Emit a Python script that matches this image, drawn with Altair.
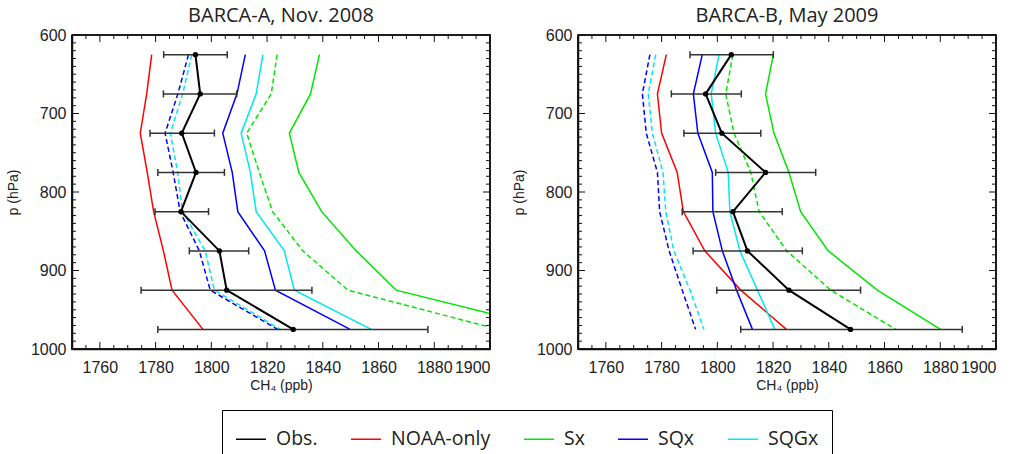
import altair as alt
import pandas as pd

# pressure levels (hPa)
levels = [625, 675, 725, 775, 825, 875, 925, 975]

# ---- BARCA-A, Nov. 2008 ----
obs_a = [1794.3, 1796.0, 1789.4, 1794.5, 1789.1, 1802.9, 1805.5, 1829.4]
obs_a_lo = [1782.9, 1782.8, 1778.0, 1780.8, 1779.8, 1792.1, 1774.8, 1780.8]
obs_a_hi = [1805.7, 1809.1, 1801.1, 1804.7, 1799.0, 1813.4, 1836.1, 1877.7]
noaa_a = [1778.6, 1776.8, 1774.5, 1777.0, 1779.3, 1782.8, 1785.9, 1797.0]
sx_a = [1838.8, 1835.6, 1828.0, 1831.4, 1839.6, 1852.0, 1866.3, 1923.0]
sx_a_d = [1823.6, 1821.5, 1812.7, 1817.2, 1822.0, 1832.8, 1849.0, 1903.0]
sqx_a = [1812.2, 1809.2, 1804.1, 1807.5, 1809.5, 1819.1, 1823.0, 1849.8]
sqx_a_d = [1791.8, 1788.0, 1783.4, 1786.3, 1788.8, 1795.7, 1799.6, 1823.8]
sqgx_a = [1818.5, 1816.1, 1810.7, 1814.0, 1816.1, 1826.2, 1829.8, 1857.4]
sqgx_a_d = [1793.0, 1789.7, 1785.3, 1787.9, 1789.7, 1797.8, 1801.1, 1824.8]

# ---- BARCA-B, May 2009 ----
obs_b = [1805.0, 1795.8, 1801.6, 1817.3, 1805.6, 1810.8, 1825.7, 1847.8]
obs_b_lo = [1790.2, 1783.5, 1788.0, 1799.4, 1787.4, 1791.3, 1799.8, 1808.4]
obs_b_hi = [1820.1, 1808.6, 1815.6, 1835.3, 1823.3, 1830.5, 1851.4, 1887.9]
noaa_b = [1781.7, 1778.5, 1780.0, 1785.6, 1787.8, 1795.5, 1808.4, 1824.8]
sx_b = [1820.1, 1817.3, 1820.3, 1825.7, 1829.9, 1839.8, 1857.4, 1880.1]
sx_b_d = [1805.6, 1803.0, 1806.0, 1812.0, 1815.0, 1824.9, 1840.7, 1864.0]
sqx_b = [1794.6, 1791.4, 1793.0, 1798.2, 1798.4, 1801.8, 1806.9, 1812.6]
sqx_b_d = [1775.8, 1773.1, 1774.5, 1778.5, 1779.3, 1782.7, 1787.4, 1792.2]
sqgx_b = [1800.6, 1797.8, 1799.4, 1803.9, 1804.5, 1808.1, 1814.4, 1820.6]
sqgx_b_d = [1777.9, 1775.2, 1776.7, 1780.5, 1781.5, 1784.4, 1790.2, 1795.2]

series_names = ["Obs.", "NOAA-only", "Sx", "SQx", "SQGx"]
series_colors = ["#000000", "#ff0000", "#00e600", "#0000ff", "#00e8f0"]

x_domain = [1750, 1900]
y_domain = [600, 1000]
x_labels = [1760, 1780, 1800, 1820, 1840, 1860, 1880, 1900]
x_minor = [v for v in range(1750, 1901, 5) if v % 20 != 0]
y_labels = [600, 700, 800, 900, 1000]
y_minor = [p for p in range(600, 1001, 10) if p % 100 != 0]

# plot-frame corners (axis extremes), walked in order
frame_v = [1750, 1900, 1900, 1750, 1750]
frame_p = [600, 600, 1000, 1000, 600]

W, H = 418, 314
FONT_TXT = "Open Sans"
FONT_AX = "Liberation Sans"
FRAME = "#111111"

color_scale = alt.Scale(domain=series_names, range=series_colors)

legend = alt.Legend(
    orient="none", legendX=150, legendY=375, direction="horizontal", columns=5,
    symbolType="stroke", symbolSize=900, symbolStrokeWidth=1.5,
    labelFont=FONT_TXT, labelFontSize=19.5, labelColor="#222222", labelOffset=9,
    columnPadding=30, padding=13, strokeColor="black", fillColor="white", title=None,
)


def panel(title, obs, lo, hi, solid_models, dashed_models):
    xs = alt.Scale(domain=x_domain, nice=False, zero=False)
    ys = alt.Scale(domain=y_domain, reverse=True, nice=False, zero=False)
    xax = alt.Axis(values=x_labels, format="d", title="CH₄ (ppb)", labelPadding=10, titlePadding=3,
                   domain=True, domainColor=FRAME, domainWidth=1.5, ticks=False, grid=False)
    yax = alt.Axis(values=y_labels, format="d", title="p (hPa)", labelPadding=6, titlePadding=10,
                   domain=True, domainColor=FRAME, domainWidth=1.5, ticks=False, grid=False)

    def X(f):
        return alt.X(f, scale=xs, axis=xax)

    def Y(f):
        return alt.Y(f, scale=ys, axis=yax)

    def to_df(models):
        rows = []
        for name, vals in models:
            for p, v in zip(levels, vals):
                rows.append({"series": name, "p": p, "v": v})
        return pd.DataFrame(rows)

    sdf = to_df(solid_models)
    ddf = to_df(dashed_models)
    odf = pd.DataFrame({"series": "Obs.", "p": levels, "v": obs, "lo": lo, "hi": hi})
    cdf = pd.DataFrame({"p": levels + levels, "v": lo + hi})
    fdf = pd.DataFrame({"k": list(range(len(frame_v))), "v": frame_v, "p": frame_p})

    solid = alt.Chart(sdf).mark_line(clip=True, strokeWidth=1.5).encode(
        x=X("v:Q"), y=Y("p:Q"),
        color=alt.Color("series:N", scale=color_scale, legend=legend),
        order="p:Q",
    )
    dashed = alt.Chart(ddf).mark_line(clip=True, strokeWidth=1.5, strokeDash=[5, 3]).encode(
        x=X("v:Q"), y=Y("p:Q"),
        color=alt.Color("series:N", scale=color_scale, legend=legend),
        order="p:Q",
    )
    err = alt.Chart(odf).mark_rule(color="#333333", strokeWidth=1.5).encode(
        x=X("lo:Q"), x2="hi:Q", y=Y("p:Q"))
    caps = alt.Chart(cdf).mark_point(shape="M0,-1L0,1", size=49, color="#333333", strokeWidth=1.5,
                                     filled=False, opacity=1).encode(x=X("v:Q"), y=Y("p:Q"))
    oline = alt.Chart(odf).mark_line(strokeWidth=2).encode(
        x=X("v:Q"), y=Y("p:Q"),
        color=alt.Color("series:N", scale=color_scale, legend=legend),
        order="p:Q",
    )
    pts = alt.Chart(odf).mark_circle(size=28, color="black", opacity=1).encode(x=X("v:Q"), y=Y("p:Q"))

    # frame drawn as a closed line through the axis corners
    frame_line = alt.Chart(fdf).mark_line(color=FRAME, strokeWidth=1.6).encode(
        x=X("v:Q"), y=Y("p:Q"), order="k:Q")

    # inward tick marks
    xmaj = pd.DataFrame({"v": x_labels})
    xmin = pd.DataFrame({"v": x_minor})
    ymaj = pd.DataFrame({"p": y_labels})
    ymin = pd.DataFrame({"p": y_minor})
    tk = []
    for df, ln in ((xmaj, 7), (xmin, 4)):
        tk.append(alt.Chart(df).mark_rule(color=FRAME, strokeWidth=1).encode(
            x=X("v:Q"), y=alt.value(H), y2=alt.value(H - ln)))
        tk.append(alt.Chart(df).mark_rule(color=FRAME, strokeWidth=1).encode(
            x=X("v:Q"), y=alt.value(0), y2=alt.value(ln)))
    for df, ln in ((ymaj, 7), (ymin, 4)):
        tk.append(alt.Chart(df).mark_rule(color=FRAME, strokeWidth=1).encode(
            y=Y("p:Q"), x=alt.value(0), x2=alt.value(ln)))
        tk.append(alt.Chart(df).mark_rule(color=FRAME, strokeWidth=1).encode(
            y=Y("p:Q"), x=alt.value(W), x2=alt.value(W - ln)))

    return alt.layer(solid, dashed, err, caps, oline, pts, frame_line, *tk).properties(
        width=W, height=H, title=title)


left = panel("BARCA-A, Nov. 2008", obs_a, obs_a_lo, obs_a_hi,
             [("NOAA-only", noaa_a), ("Sx", sx_a), ("SQx", sqx_a), ("SQGx", sqgx_a)],
             [("Sx", sx_a_d), ("SQx", sqx_a_d), ("SQGx", sqgx_a_d)])
right = panel("BARCA-B, May 2009", obs_b, obs_b_lo, obs_b_hi,
              [("NOAA-only", noaa_b), ("Sx", sx_b), ("SQx", sqx_b), ("SQGx", sqgx_b)],
              [("Sx", sx_b_d), ("SQx", sqx_b_d), ("SQGx", sqgx_b_d)])

chart = alt.hconcat(left, right, spacing=88, bounds="flush").resolve_scale(
    color="shared"
).configure_view(
    stroke=FRAME, strokeWidth=1.5
).configure_title(
    font=FONT_TXT, fontSize=20, fontWeight="normal", color="#222222", offset=1, anchor="middle"
).configure_axis(
    labelFont=FONT_AX, labelFontSize=16, labelColor="#222222",
    titleFont=FONT_AX, titleFontSize=14, titleFontWeight="normal", titleColor="#222222",
)

chart.save("out.html", embed_options={"renderer": "svg", "actions": False})
